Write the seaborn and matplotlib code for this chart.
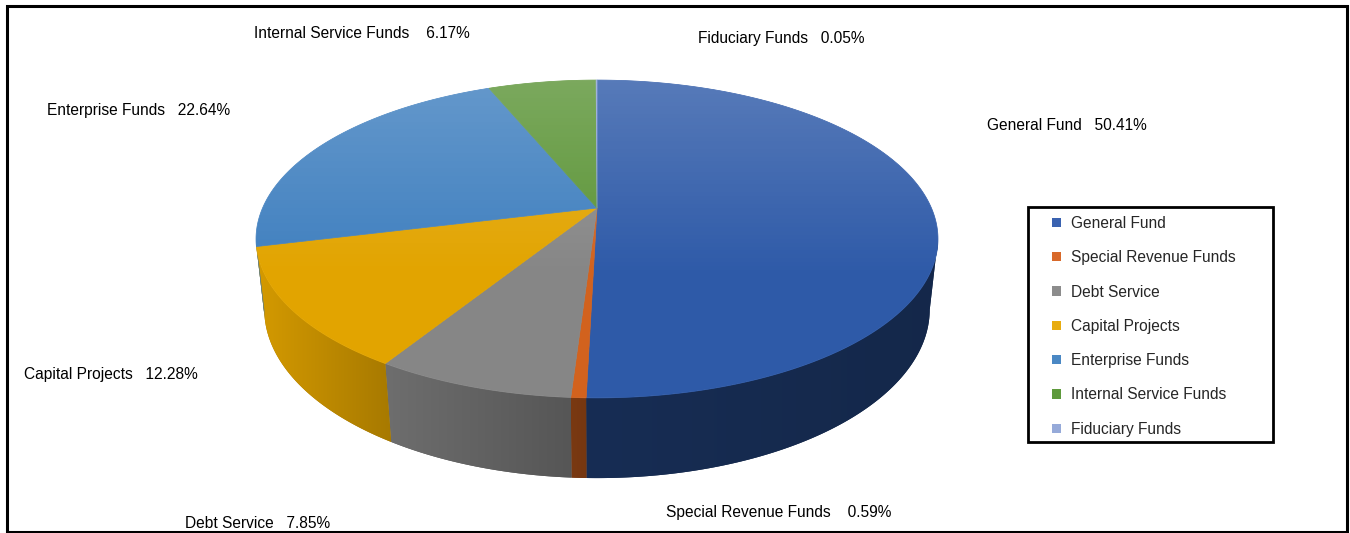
import numpy as np
import matplotlib
matplotlib.use("Agg")
import matplotlib.pyplot as plt
import seaborn as sns
from matplotlib.patches import Polygon, Rectangle, Patch
from matplotlib.colors import to_rgb

# ---------------- data ----------------
categories = ["General Fund", "Special Revenue Funds", "Debt Service",
              "Capital Projects", "Enterprise Funds", "Internal Service Funds",
              "Fiduciary Funds"]
shares = [50.41, 0.59, 7.85, 12.28, 22.64, 6.17, 0.05]
pct_labels = ["50.41%", "0.59%", "7.85%", "12.28%", "22.64%", "6.17%", "0.05%"]

# ---------------- style ----------------
top_colors = ["#2E5AA8", "#D2621E", "#868686", "#E2A400", "#3F7FBF", "#5B9436", "#8EA3D6"]
legend_colors = ["#3A62B0", "#D8692A", "#8C8C8C", "#E8AC10", "#4A88C4", "#5E9A3C", "#96AAD9"]
side_f_left = [0.50, 0.58, 0.82, 0.94, 0.95, 0.95, 0.95]
side_f_right = [0.44, 0.56, 0.64, 0.74, 0.92, 0.92, 0.92]
label_pos = [(1067, 126), (779, 512), (258, 523), (111, 375), (139, 110), (362, 33), (781, 38)]
label_sep = ["   ", "    ", "   ", "   ", "   ", "    ", "   "]
FS = 11.2

sns.set_theme(style="white")
plt.rcParams['font.family'] = ['Liberation Sans', 'DejaVu Sans']

W, H = 1350, 533
fig = plt.figure(figsize=(13.5, 5.33), dpi=100)
ax = fig.add_axes([0, 0, 1, 1])
ax.set_xlim(0, W)
ax.set_ylim(H, 0)
ax.axis('off')

# perspective camera for the 3-D pie
CX, CY = 597, 208
PHI = np.radians(27.2)
DIST = 4.56
FOC = 1525
THICK = 0.2387


def project(theta, h):
    X = np.cos(theta)
    Z = np.sin(theta)
    up = h * np.cos(PHI) + Z * np.sin(PHI)
    depth = DIST + Z * np.cos(PHI) - h * np.sin(PHI)
    return CX + FOC * X / depth, CY - FOC * up / depth


vals = np.array(shares, dtype=float)
bounds = np.radians(90 - 360 * np.concatenate([[0], np.cumsum(vals)]) / vals.sum())

# visible part of the cylinder wall lies between the two silhouette generators
k_sil = np.cos(PHI) / (DIST + 0.5 * THICK * np.sin(PHI))
t_right = -np.arcsin(k_sil)
t_left = -np.pi + np.arcsin(k_sil)

# ---- side walls: one polygon per slice, filled with a horizontal gradient ----
for i in range(len(vals)):
    a0, a1 = bounds[i], bounds[i + 1]
    hi, lo = min(a0, t_right), max(a1, t_left)
    if hi <= lo:
        continue
    n = max(2, int(np.ceil(np.degrees(hi - lo) / 0.3)) + 1)
    th = np.linspace(hi, lo, n)
    tx, ty = project(th, 0)
    bx, by = project(th, -THICK)
    pts = np.column_stack([np.concatenate([tx, bx[::-1]]), np.concatenate([ty, by[::-1]])])
    base = np.array(to_rgb(top_colors[i]))
    poly = Polygon(pts, closed=True, facecolor=tuple(base * side_f_right[i]),
                   edgecolor='none', zorder=1)
    ax.add_patch(poly)
    x0, x1 = pts[:, 0].min(), pts[:, 0].max()
    y0, y1 = pts[:, 1].min(), pts[:, 1].max()
    fr = np.linspace(0, 1, 128)
    f = side_f_left[i] + (side_f_right[i] - side_f_left[i]) * fr
    img = np.ones((1, 128, 4))
    img[0, :, :3] = np.clip(base[None, :] * f[:, None], 0, 1)
    im = ax.imshow(img, extent=(x0 - 0.5, x1 + 0.5, y1 + 0.5, y0 - 0.5), origin='upper',
                   aspect='auto', interpolation='bilinear', zorder=1.5)
    im.set_clip_path(poly)

# ---- top faces ----
for i in range(len(vals)):
    a0, a1 = bounds[i], bounds[i + 1]
    n = max(2, int(np.ceil(abs(np.degrees(a0 - a1)) / 0.5)) + 1)
    th = np.linspace(a0, a1, n)
    px, py = project(th, 0)
    pts = np.column_stack([np.concatenate([[CX], px]), np.concatenate([[CY], py])])
    ax.add_patch(Polygon(pts, closed=True, facecolor=top_colors[i],
                         edgecolor=top_colors[i], linewidth=0.5, zorder=2))

# light gradient on the top face
thf = np.linspace(0, 2 * np.pi, 400)
ex, ey = project(thf, 0)
clip = Polygon(np.column_stack([ex, ey]), closed=True, transform=ax.transData,
               facecolor='none', edgecolor='none')
ax.add_patch(clip)
yy = np.linspace(78, 400, 256)
grad = np.ones((256, 1, 4))
grad[:, 0, 3] = np.clip(0.20 * (1 - (yy - 78) / 200), 0, None)
im = ax.imshow(grad, extent=(250, 945, 400, 78), origin='upper', aspect='auto',
               interpolation='bilinear', zorder=3)
im.set_clip_path(clip)

# ---- data labels ----
for i in range(len(vals)):
    ax.text(label_pos[i][0], label_pos[i][1], f"{categories[i]}{label_sep[i]}{pct_labels[i]}",
            ha='center', va='center', fontsize=FS, color='black', zorder=5)

# ---- legend ----
ax.add_patch(Rectangle((1028, 207), 245, 235, fill=False, edgecolor='black', linewidth=2.0, zorder=5))
handles = [Patch(facecolor=c, edgecolor='none') for c in legend_colors]
ax.legend(handles, categories, loc='upper left', bbox_to_anchor=(1052, 216),
          bbox_transform=ax.transData, frameon=False, fontsize=FS,
          handlelength=0.55, handleheight=0.55, handletextpad=0.7,
          labelspacing=1.24, borderpad=0, borderaxespad=0)

# ---- outer frame ----
ax.add_patch(Rectangle((7, 6), 1340, 526, fill=False, edgecolor='black', linewidth=2.2, zorder=6))

fig.savefig("out.png", dpi=100)
